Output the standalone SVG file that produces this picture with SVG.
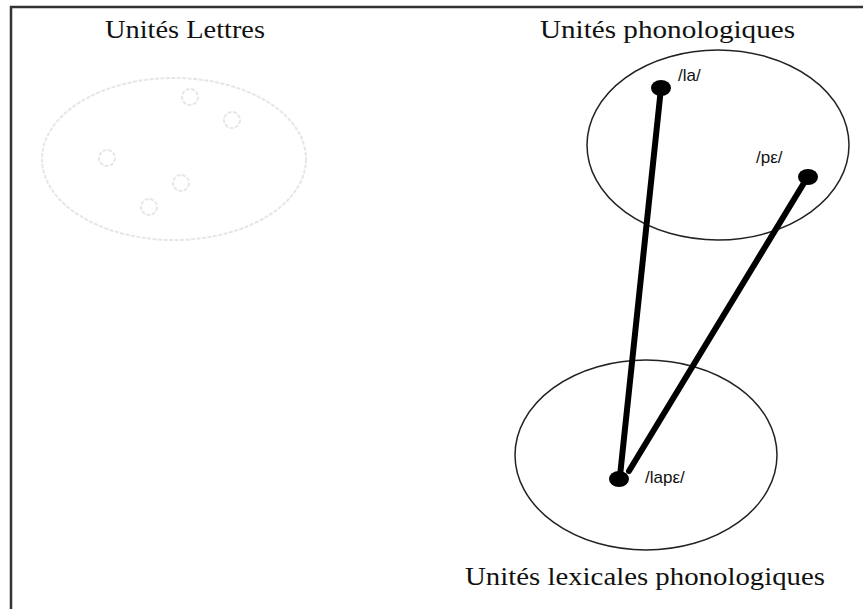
<svg xmlns="http://www.w3.org/2000/svg" width="863" height="609" viewBox="0 0 863 609">
<style>
.title{font-family:"Liberation Serif",serif;font-size:26px;fill:#111}
.lbl{font-family:"Liberation Sans",sans-serif;font-size:17px;fill:#111}
.set{fill:none;stroke:#222;stroke-width:1.5}
.faint{fill:none;stroke:#e6e6e6;stroke-width:2;stroke-dasharray:4 1.5}
.dot{fill:#000}
.link{stroke:#000;stroke-width:6;stroke-linecap:round}
</style>
<rect x="0" y="0" width="863" height="609" fill="#fff"/>
<rect x="11" y="7" width="870" height="620" fill="none" stroke="#333" stroke-width="2.5"/>
<g id="lettres">
<ellipse class="faint" cx="174" cy="159" rx="132" ry="81"/>
<circle class="faint" cx="190" cy="97" r="8"/>
<circle class="faint" cx="232" cy="120" r="8"/>
<circle class="faint" cx="107" cy="158" r="8"/>
<circle class="faint" cx="181" cy="183" r="8"/>
<circle class="faint" cx="149" cy="207" r="8"/>
<text class="title" x="105" y="38" textLength="160" lengthAdjust="spacingAndGlyphs">Unités Lettres</text>
</g>
<g id="phonologiques">
<ellipse class="set" cx="718" cy="145" rx="131" ry="95"/>
<text class="title" x="540" y="38" textLength="255" lengthAdjust="spacingAndGlyphs">Unités phonologiques</text>
</g>
<g id="lexicales">
<ellipse class="set" cx="646" cy="455" rx="131" ry="95"/>
<text class="title" x="465" y="585" textLength="360" lengthAdjust="spacingAndGlyphs">Unités lexicales phonologiques</text>
</g>
<g id="connectors">
<line class="link" x1="661" y1="88" x2="620" y2="476"/>
<line class="link" x1="807" y1="178" x2="629" y2="471"/>
</g>
<g id="node-la">
<ellipse class="dot" cx="661" cy="88" rx="10" ry="8"/>
<text class="lbl" x="678" y="81">/la/</text>
</g>
<g id="node-pe">
<ellipse class="dot" cx="808" cy="177" rx="10" ry="8"/>
<text class="lbl" x="756" y="163">/pε/</text>
</g>
<g id="node-lape">
<ellipse class="dot" cx="619" cy="479" rx="10" ry="8"/>
<text class="lbl" x="645" y="483">/lapε/</text>
</g>
</svg>
